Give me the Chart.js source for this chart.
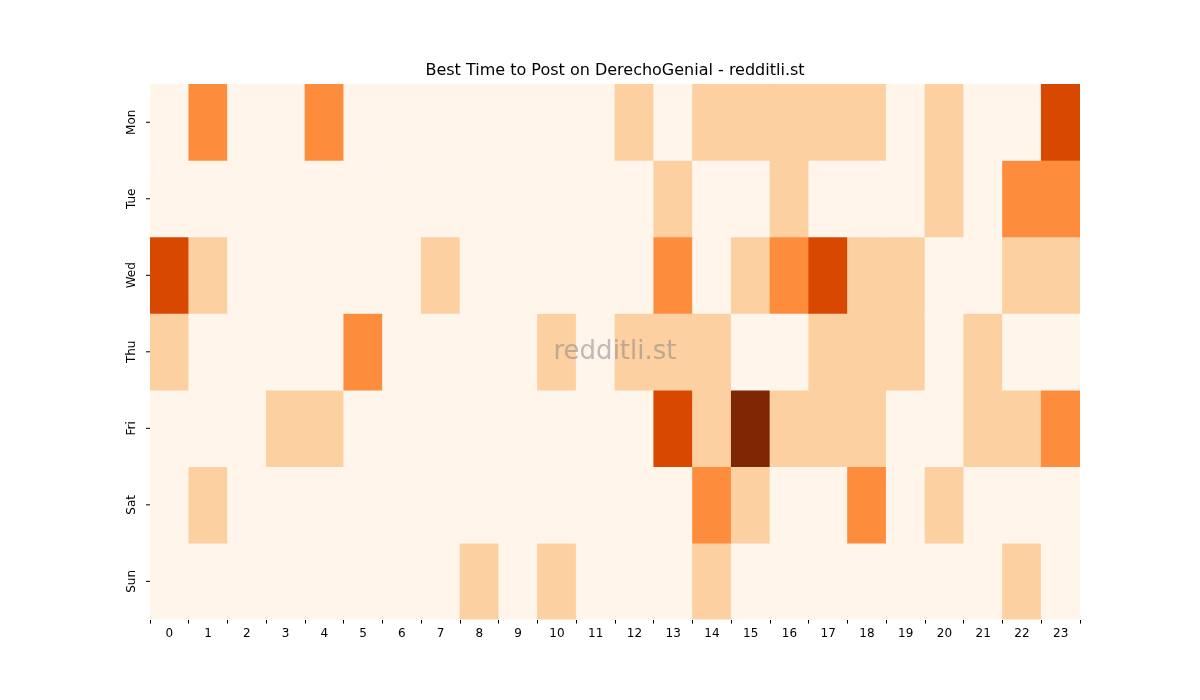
<!DOCTYPE html>
<html>
<head>
<meta charset="utf-8">
<script src="https://cdn.jsdelivr.net/npm/chart.js@4"></script>
<style>body{margin:0;background:#fff}</style>
</head>
<body>
<canvas id="c" width="1200" height="700"></canvas>
<script>
const hours = Array.from({length: 24}, (_, i) => String(i));
const days = ["Mon", "Tue", "Wed", "Thu", "Fri", "Sat", "Sun"];
// activity level per hour, 0..4
const mon = [0,2,0,0,2,0,0,0,0,0,0,0,1,0,1,1,1,1,1,0,1,0,0,3];
const tue = [0,0,0,0,0,0,0,0,0,0,0,0,0,1,0,0,1,0,0,0,1,0,2,2];
const wed = [3,1,0,0,0,0,0,1,0,0,0,0,0,2,0,1,2,3,1,1,0,0,1,1];
const thu = [1,0,0,0,0,2,0,0,0,0,1,0,1,1,1,0,0,1,1,1,0,1,0,0];
const fri = [0,0,0,1,1,0,0,0,0,0,0,0,0,3,1,4,1,1,1,0,0,1,1,2];
const sat = [0,1,0,0,0,0,0,0,0,0,0,0,0,0,2,1,0,0,2,0,1,0,0,0];
const sun = [0,0,0,0,0,0,0,0,1,0,1,0,0,0,1,0,0,0,0,0,0,0,1,0];
const rows = [mon, tue, wed, thu, fri, sat, sun];
const palette = ["#fff5eb", "#fdd0a2", "#fd8d3c", "#d94801", "#7f2704"];

const overlay = {
  id: "overlay",
  afterDraw(chart) {
    const {ctx, chartArea: a} = chart;
    ctx.save();
    ctx.fillStyle = "#000";
    ctx.font = "16px 'DejaVu Sans'";
    ctx.textAlign = "center";
    ctx.textBaseline = "bottom";
    ctx.fillText("Best Time to Post on DerechoGenial - redditli.st", (a.left + a.right) / 2, a.top - 5);
    const h = (a.bottom - a.top) / days.length;
    ctx.font = "12px 'DejaVu Sans'";
    ctx.strokeStyle = "#000";
    days.forEach((d, i) => {
      const y = a.top + h * (i + 0.5);
      ctx.beginPath(); ctx.moveTo(a.left - 4, y); ctx.lineTo(a.left, y); ctx.stroke();
      ctx.save();
      ctx.translate(a.left - 12, y);
      ctx.rotate(-Math.PI / 2);
      ctx.textBaseline = "bottom";
      ctx.fillText(d, 0, 0);
      ctx.restore();
    });
    ctx.fillStyle = "rgba(128,128,128,0.5)";
    ctx.font = "26px 'DejaVu Sans'";
    ctx.textBaseline = "middle";
    ctx.fillText("redditli.st", (a.left + a.right) / 2, (a.top + a.bottom) / 2);
    ctx.restore();
  }
};

new Chart(document.getElementById("c"), {
  type: "bar",
  data: {
    labels: hours,
    datasets: rows.map((r, i) => ({
      label: days[i],
      data: r.map(() => 1),
      backgroundColor: r.map(v => palette[v]),
      borderWidth: 0,
      categoryPercentage: 1,
      barPercentage: 1,
      borderSkipped: false
    }))
  },
  options: {
    responsive: false,
    animation: false,
    layout: {padding: {left: 150, right: 120, top: 84, bottom: 56}},
    plugins: {legend: {display: false}, tooltip: {enabled: false}},
    scales: {
      x: {
        stacked: true,
        grid: {drawOnChartArea: false, tickLength: 4, color: "#000"},
        border: {display: false},
        ticks: {color: "#000", font: {size: 12, family: "DejaVu Sans"}, maxRotation: 0, autoSkip: false}
      },
      y: {stacked: true, display: false, reverse: true, min: 0, max: 7}
    }
  },
  plugins: [overlay]
});
</script>
</body>
</html>
